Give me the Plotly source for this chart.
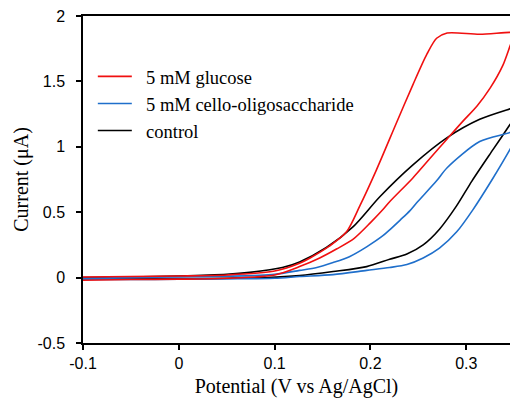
import plotly.graph_objects as go

# Red: 5 mM glucose (forward branch then reverse branch)
glu_v = [-0.1, -0.05, 0.0, 0.05, 0.1, 0.126, 0.147, 0.165, 0.183, 0.2, 0.213, 0.22, 0.244, 0.262, 0.28, 0.297, 0.311, 0.325, 0.338, 0.3456, 0.35,
         0.35, 0.3456, 0.314, 0.28, 0.269, 0.259, 0.244, 0.2275, 0.206, 0.189, 0.175, 0.157, 0.137, 0.126, 0.1, 0.05, 0.0, -0.05, -0.1]
glu_i = [-0.02, -0.015, -0.012, -0.005, 0.02, 0.084, 0.15, 0.22, 0.30, 0.42, 0.52, 0.58, 0.76, 0.91, 1.06, 1.20, 1.31, 1.45, 1.62, 1.77, 1.86,
         1.87, 1.875, 1.86, 1.87, 1.83, 1.71, 1.47, 1.19, 0.82, 0.55, 0.35, 0.24, 0.15, 0.11, 0.05, 0.02, 0.012, 0.008, 0.005]

# Blue: 5 mM cello-oligosaccharide
cel_v = [-0.1, -0.05, 0.0, 0.05, 0.1, 0.126, 0.161, 0.196, 0.22, 0.238, 0.255, 0.272, 0.29, 0.307, 0.327, 0.3456, 0.35,
         0.35, 0.3456, 0.314, 0.28, 0.269, 0.248, 0.241, 0.231, 0.22, 0.213, 0.196, 0.178, 0.161, 0.144, 0.126, 0.1, 0.05, 0.0, -0.05, -0.1]
cel_i = [-0.015, -0.015, -0.013, -0.01, -0.005, 0.008, 0.023, 0.055, 0.077, 0.10, 0.15, 0.225, 0.35, 0.52, 0.75, 0.98, 1.04,
         1.13, 1.11, 1.04, 0.84, 0.74, 0.57, 0.51, 0.44, 0.365, 0.32, 0.235, 0.16, 0.115, 0.077, 0.055, 0.025, 0.01, 0.005, 0.0, -0.005]

# Black: control
ctl_v = [-0.1, -0.05, 0.0, 0.05, 0.092, 0.126, 0.161, 0.196, 0.22, 0.238, 0.255, 0.272, 0.29, 0.306, 0.328, 0.3456, 0.35,
         0.35, 0.3456, 0.314, 0.28, 0.244, 0.21, 0.182, 0.154, 0.126, 0.108, 0.074, 0.05, 0.0, -0.05, -0.1]
ctl_i = [-0.01, -0.01, -0.008, -0.005, 0.0, 0.015, 0.046, 0.084, 0.14, 0.18, 0.25, 0.37, 0.55, 0.74, 0.98, 1.17, 1.22,
         1.30, 1.29, 1.21, 1.07, 0.86, 0.62, 0.39, 0.23, 0.12, 0.077, 0.04, 0.025, 0.012, 0.005, 0.0]

x_ticks = [-0.1, 0.0, 0.1, 0.2, 0.3]
x_labels = ["-0.1", "0", "0.1", "0.2", "0.3"]
y_ticks = [-0.5, 0.0, 0.5, 1.0, 1.5, 2.0]
y_labels = ["-0.5", "0", "0.5", "1", "1.5", "2"]

NB = "\u00a0\u00a0"

fig = go.Figure()
fig.add_trace(go.Scatter(x=ctl_v, y=ctl_i, mode="lines", name=NB + "control",
                         line=dict(color="#000000", width=1.6, shape="spline", smoothing=0.8), legendrank=3))
fig.add_trace(go.Scatter(x=cel_v, y=cel_i, mode="lines", name=NB + "5 mM cello-oligosaccharide",
                         line=dict(color="#1F6FCB", width=1.6, shape="spline", smoothing=0.8), legendrank=2))
fig.add_trace(go.Scatter(x=glu_v, y=glu_i, mode="lines", name=NB + "5 mM glucose",
                         line=dict(color="#F01010", width=1.6, shape="spline", smoothing=0.8), legendrank=1))

fig.update_layout(
    width=510, height=398,
    margin=dict(l=83, r=0, t=16, b=55),
    plot_bgcolor="white", paper_bgcolor="white",
    showlegend=True,
    legend=dict(x=0.023, y=0.872, xanchor="left", yanchor="top",
                font=dict(family="Liberation Serif", size=18.5, color="#000"),
                bgcolor="rgba(0,0,0,0)", tracegroupgap=0, itemwidth=34),
    xaxis=dict(range=[-0.1, 0.3456], tickvals=x_ticks, ticktext=x_labels,
               showline=True, linecolor="#000", linewidth=1.5, mirror=True,
               ticks="outside", ticklen=5, tickwidth=1.5, tickcolor="#000",
               showgrid=False, zeroline=False,
               tickfont=dict(family="Liberation Sans", size=16, color="#000"),
               title=dict(text="Potential (V vs Ag/AgCl)", standoff=10,
                          font=dict(family="Liberation Serif", size=20, color="#000"))),
    yaxis=dict(range=[-0.5, 2.0], tickvals=y_ticks, ticktext=y_labels,
               showline=True, linecolor="#000", linewidth=1.5, mirror=False,
               ticks="outside", ticklen=5, tickwidth=1.5, tickcolor="#000",
               showgrid=False, zeroline=False, ticklabelstandoff=8,
               tickfont=dict(family="Liberation Sans", size=16, color="#000"),
               title=dict(text="Current (μA)", standoff=3,
                          font=dict(family="Liberation Serif", size=20, color="#000"))),
)

fig.write_html("out.html")
